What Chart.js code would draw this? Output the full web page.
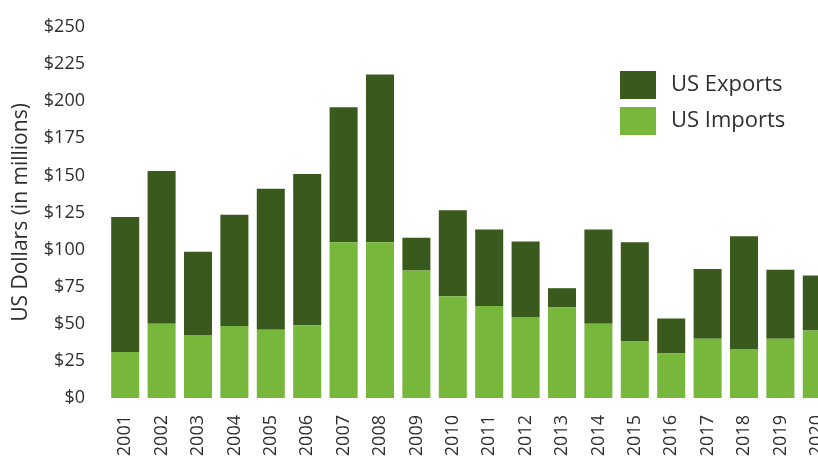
<!DOCTYPE html>
<html>
<head>
<meta charset="utf-8">
<script src="https://cdn.jsdelivr.net/npm/chart.js@4"></script>
<style>
  html, body { margin: 0; padding: 0; background: #fff; overflow: hidden; }
  #wrap { width: 836px; height: 476px; }
</style>
</head>
<body>
<div id="wrap"><canvas id="tradeChart" width="836" height="476"></canvas></div>
<script>
const years = ['2001', '2002', '2003', '2004', '2005', '2006', '2007', '2008', '2009', '2010',
               '2011', '2012', '2013', '2014', '2015', '2016', '2017', '2018', '2019', '2020'];

// millions of US dollars; exports sit on top of imports in each stack
const usImports = [31, 50, 42.5, 48.5, 46, 49, 105, 105, 86, 68.5,
                   62, 54.5, 61, 50, 38, 30, 40, 33, 40, 45.5];
const usExports = [91, 103, 56, 75, 95, 102, 91, 113, 22, 58,
                   51.5, 51, 13, 63.5, 67, 23.5, 47, 76, 46.5, 37];

const yTicks = [0, 25, 50, 75, 100, 125, 150, 175, 200, 225, 250];

const darkGreen = '#3a5a1d';
const lightGreen = '#77b83c';
const textColor = '#2f2f2f';
const fontFamily = '"Open Sans", "Noto Sans", sans-serif';

// legend box drawn inside the plot, exports listed first
const boxLegend = {
    id: 'boxLegend',
    afterDraw(chart) {
        const ctx = chart.ctx;
        const items = [chart.data.datasets[1], chart.data.datasets[0]];
        ctx.save();
        ctx.font = '22px ' + fontFamily;
        ctx.textBaseline = 'middle';
        items.forEach((ds, i) => {
            const top = 71 + i * 36;
            ctx.fillStyle = ds.backgroundColor;
            ctx.fillRect(620, top, 36, 28);
            ctx.fillStyle = textColor;
            ctx.fillText(ds.label, 671, top + 14);
        });
        ctx.restore();
    }
};

new Chart(document.getElementById('tradeChart'), {
    type: 'bar',
    data: {
        labels: years,
        datasets: [{
            label: 'US Imports',
            data: usImports,
            backgroundColor: lightGreen,
            categoryPercentage: 1,
            barPercentage: 0.77
        }, {
            label: 'US Exports',
            data: usExports,
            backgroundColor: darkGreen,
            categoryPercentage: 1,
            barPercentage: 0.77
        }]
    },
    options: {
        responsive: false,
        animation: false,
        layout: { padding: { top: 27, right: 1, bottom: 0, left: 0 } },
        plugins: {
            legend: { display: false },
            tooltip: { enabled: false }
        },
        scales: {
            x: {
                stacked: true,
                grid: { display: false, drawTicks: false },
                border: { display: false },
                ticks: {
                    color: textColor,
                    font: { family: fontFamily, size: 18 },
                    minRotation: 90,
                    maxRotation: 90,
                    autoSkip: false,
                    padding: 17
                },
                afterFit(scale) {
                    scale.height = 78;
                    scale.paddingLeft = 0;
                    scale.paddingRight = 0;
                }
            },
            y: {
                stacked: true,
                min: 0,
                max: 250,
                afterBuildTicks(scale) { scale.ticks = yTicks.map(v => ({ value: v })); },
                grid: { display: false, drawTicks: false },
                border: { display: false },
                ticks: {
                    color: textColor,
                    font: { family: fontFamily, size: 18 },
                    padding: 22,
                    callback: v => '$' + v
                },
                title: {
                    display: true,
                    text: 'US Dollars (in millions)',
                    color: textColor,
                    font: { family: fontFamily, size: 21 },
                    padding: { top: 8, bottom: 0 }
                },
                afterFit(scale) {
                    scale.width = 107;
                    scale.paddingTop = 0;
                    scale.paddingBottom = 0;
                }
            }
        }
    },
    plugins: [boxLegend]
});
</script>
</body>
</html>
